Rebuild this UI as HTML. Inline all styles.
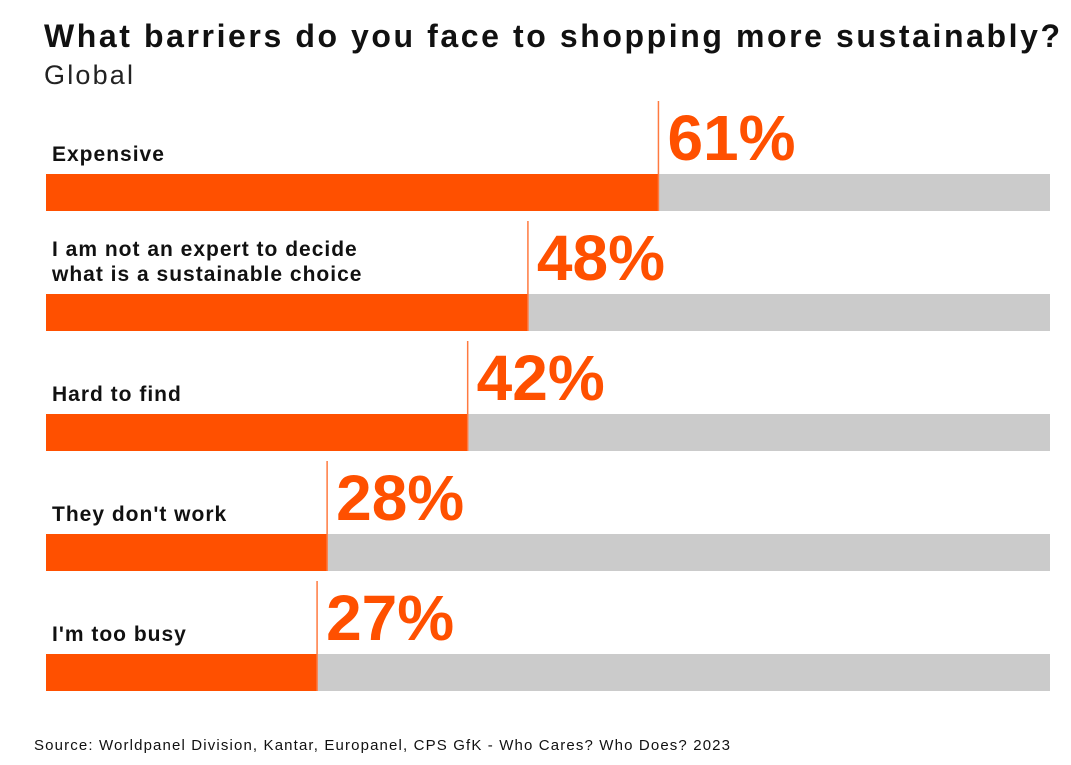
<!DOCTYPE html>
<html><head><meta charset="utf-8"><style>
body{margin:0;background:#fff;width:1071px;height:760px;overflow:hidden;font-family:"Liberation Sans",sans-serif}
</style></head><body>
<svg width="1071" height="760">
<text x="44" y="47" font-size="32" font-weight="bold" fill="#111" textLength="1016" lengthAdjust="spacing">What barriers do you face to shopping more sustainably?</text>
<text x="44" y="84" font-size="27" fill="#222" textLength="89" lengthAdjust="spacing">Global</text>
<g id="bars"></g>
<text x="34" y="750" font-size="15" fill="#111" textLength="696" lengthAdjust="spacing">Source: Worldpanel Division, Kantar, Europanel, CPS GfK - Who Cares? Who Does? 2023</text>
</svg>
<script>
const categories=[["Expensive"],["I am not an expert to decide","what is a sustainable choice"],["Hard to find"],["They don't work"],["I'm too busy"]];
const values=[61,48,42,28,27];
const valueLabels=["61%","48%","42%","28%","27%"];
const x0=46,x1=1050,top0=174,step=120,bh=37;
const xs=v=>x0+(x1-x0)*v/100;
const g=document.getElementById('bars');const NS="http://www.w3.org/2000/svg";
function mk(t,a){const e=document.createElementNS(NS,t);for(const k in a)e.setAttribute(k,a[k]);g.appendChild(e);return e;}
values.forEach((v,i)=>{
const y=top0+i*step,xe=xs(v);
let e=mk('rect',{x:x0,y:y,width:x1-x0,height:bh,fill:'#cbcbcb'});


e=mk('rect',{x:x0,y:y,width:xe-x0,height:bh,fill:'#ff5000'});


e=mk('line',{x1:xe,x2:xe,y1:y-73,y2:y+bh,stroke:'#ff7a40','stroke-width':1.5});


e=mk('text',{x:xe+9,y:y-14,'font-size':64,'font-weight':'bold',fill:'#ff5000'});
e.textContent=valueLabels[i];


const lines=categories[i];
lines.forEach((l,j)=>{
const t=mk('text',{x:52,y:y-13-(lines.length-1-j)*25,'font-size':21,'font-weight':'bold','letter-spacing':1.0,fill:'#111'});
t.textContent=l;


});
});
</script>
</body></html>
